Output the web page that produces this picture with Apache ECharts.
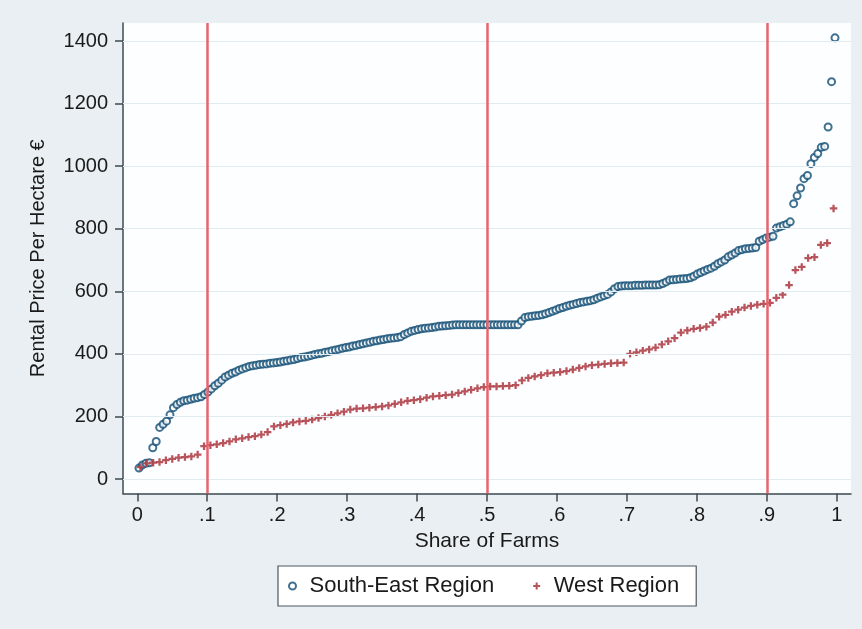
<!DOCTYPE html>
<html>
<head>
<meta charset="utf-8">
<title>Rental price per hectare</title>
<script src="https://cdn.jsdelivr.net/npm/echarts@6/dist/echarts.min.js"></script>
<style>
  html, body { margin: 0; padding: 0; background: #e9eff2; }
  #chart { width: 862px; height: 629px; }
</style>
</head>
<body>
<div id="chart"></div>
<script>
// sorted rental prices (EUR per ha)
const southEast = [
  35, 45, 50, 52, 100, 120, 165, 175, 185, 205,
  228, 238, 245, 250, 252, 255, 258, 260, 263, 270,
  278, 288, 298, 306, 316, 326, 332, 338, 342, 348,
  352, 356, 360, 362, 364, 366, 367, 368, 370, 371,
  372, 374, 376, 378, 380, 382, 385, 388, 390, 392,
  395, 398, 400, 402, 405, 407, 410, 412, 415, 418,
  420, 422, 425, 427, 430, 432, 435, 437, 440, 442,
  444, 446, 448, 450, 451, 452, 455, 462, 467, 472,
  475, 478, 480, 482, 483, 484, 486, 488, 489, 490,
  491, 492, 493, 493, 493, 493, 493, 493, 493, 493,
  493, 493, 493, 493, 493, 493, 493, 493, 493, 493,
  493, 505, 516, 519, 520, 522, 523, 525, 528, 532,
  536, 540, 545, 548, 552, 555, 558, 561, 564, 566,
  568, 570, 573, 578, 582, 586, 590, 598, 608, 615,
  617, 618, 618, 618, 619, 619, 619, 620, 620, 620,
  620, 621, 625, 630, 636, 637, 638, 639, 640, 641,
  643, 648, 655, 660, 665, 670, 674, 680, 688, 694,
  700, 710, 716, 722, 730, 733, 736, 737, 738, 740,
  760, 765, 770, 773, 776, 802, 806, 810, 814, 822,
  880, 905, 930, 960, 970, 1008, 1028, 1040, 1060, 1063,
  1125, 1270, 1410
];
const west = [
  38, 50, 52, 54, 60, 64, 68, 70, 72, 78,
  105, 108, 111, 115, 120, 127, 130, 134, 137, 142,
  150, 168, 172, 176, 181, 184, 186, 190, 195, 200,
  205, 210, 215, 222, 225, 226, 228, 230, 232, 235,
  240, 245, 250, 252, 255, 260, 264, 266, 268, 270,
  275, 280, 285, 290, 294, 296, 296, 297, 298, 300,
  315, 323, 328, 332, 338, 340, 342, 345, 350, 355,
  360, 364, 366, 368, 370, 371, 372, 400, 405, 410,
  414, 420, 430, 440, 450, 468, 475, 480, 483, 487,
  500, 519, 525, 535, 541, 548, 553, 557, 560, 563,
  579, 589, 620, 668, 678, 706, 709, 748, 754, 865
];
const xTicks = [0, 0.1, 0.2, 0.3, 0.4, 0.5, 0.6, 0.7, 0.8, 0.9, 1];
const yTicks = [0, 200, 400, 600, 800, 1000, 1200, 1400];
const cutoffs = [0.1, 0.5, 0.9];

// quantile plot: the i-th sorted value sits at share (i + 0.5) / n
const toPoints = (vals) => vals.map((v, i) => [(i + 0.5) / vals.length, v]);

const font = "Liberation Sans";
const plusPath = "path://M2.8,0H5.2V2.8H8V5.2H5.2V8H2.8V5.2H0V2.8H2.8Z";

let myChart = echarts.init(document.getElementById("chart"));
let option = {
  backgroundColor: "#e9eff2",
  animation: false,
  textStyle: { fontFamily: font },
  grid: {
    left: 123,
    right: 11,
    top: 23,
    bottom: 135.5,
    show: true,
    backgroundColor: "#fdfeff",
    borderWidth: 0,
  },
  legend: {
    left: 278,
    top: 566,
    padding: [9, 17, 9, 10],
    itemGap: 39,
    itemWidth: 24,
    itemHeight: 7,
    backgroundColor: "#ffffff",
    borderColor: "#4d585e",
    borderWidth: 1.2,
    textStyle: { fontSize: 22, color: "#1a1a1a", fontFamily: font },
    data: ["South-East Region", "West Region"],
  },
  xAxis: {
    type: "value",
    min: -0.0204,
    max: 1.0204,
    name: "Share of Farms",
    nameLocation: "middle",
    nameGap: 37,
    nameTextStyle: { fontSize: 21, color: "#1a1a1a", fontFamily: font },
    axisLine: { onZero: false, lineStyle: { color: "#3c4a52", width: 1.5 } },
    axisTick: { customValues: xTicks, length: 8, lineStyle: { color: "#3c4a52", width: 1.5 } },
    axisLabel: {
      customValues: xTicks,
      margin: 12,
      fontSize: 20,
      color: "#1a1a1a",
      formatter: (v) => (v === 0 || v === 1 ? String(v) : String(v).replace(/^0/, "")),
    },
    splitLine: { show: false },
  },
  yAxis: {
    type: "value",
    min: -46.3,
    max: 1457.5,
    name: "Rental Price Per Hectare €",
    nameLocation: "middle",
    nameGap: 75,
    nameTextStyle: { fontSize: 20, color: "#1a1a1a", fontFamily: font },
    axisLine: { show: true, onZero: false, lineStyle: { color: "#3c4a52", width: 1.5 } },
    axisTick: { customValues: yTicks, length: 8, lineStyle: { color: "#3c4a52", width: 1.5 } },
    axisLabel: {
      customValues: yTicks,
      margin: 15,
      fontSize: 20,
      color: "#1a1a1a",
      formatter: (v) => String(v),
    },
    splitLine: { show: false },
  },
  series: [
    {
      // grid lines and the decile cut-offs
      type: "line",
      data: [],
      silent: true,
      z: 1,
      markLine: {
        silent: true,
        symbol: "none",
        label: { show: false },
        data: yTicks
          .map((v) => ({ yAxis: v, lineStyle: { color: "#e2ecf0", width: 1, type: "solid" } }))
          .concat(cutoffs.map((v) => ({ xAxis: v, lineStyle: { color: "#e8636d", width: 2.5, type: "solid" } }))),
      },
    },
    {
      name: "South-East Region",
      type: "scatter",
      z: 3,
      symbol: "emptyCircle",
      symbolSize: 7,
      itemStyle: { color: "#124d74", borderColor: "#124d74", borderWidth: 2.1 },
      data: toPoints(southEast),
    },
    {
      name: "West Region",
      type: "scatter",
      z: 3,
      symbol: plusPath,
      symbolSize: 7.5,
      itemStyle: { color: "#b0434a", opacity: 0.9 },
      data: toPoints(west),
    },
  ],
};
myChart.setOption(option);
</script>
</body>
</html>
